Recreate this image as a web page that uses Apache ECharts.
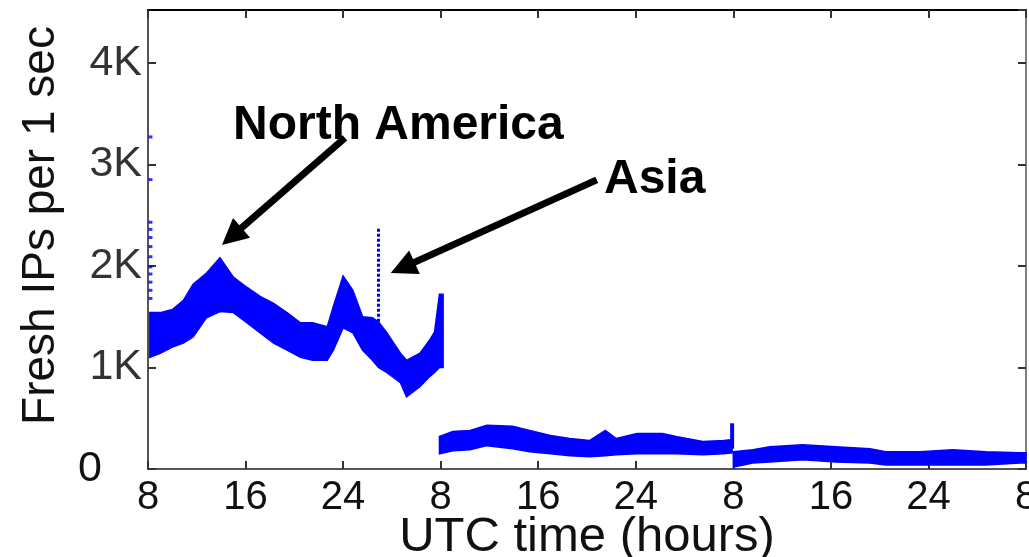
<!DOCTYPE html>
<html>
<head>
<meta charset="utf-8">
<script src="https://cdn.jsdelivr.net/npm/echarts@6/dist/echarts.min.js"></script>
<style>
html, body { margin: 0; padding: 0; background: #fff; }
#main { width: 1029px; height: 557px; }
</style>
</head>
<body>
<div id="main"></div>
<script>
// hours counted from 8:00 UTC on the first day
var xTickLabels = ['8', '16', '24', '8', '16', '24', '8', '16', '24', '8'];
var yTickLabels = ['0', '1K', '2K', '3K', '4K'];

// day 1 band (lower / upper edge of the point cloud)
var hours1 = [0.15, 1.0, 2.0, 2.9, 3.7, 4.8, 5.9, 7.0, 8.1, 9.2, 10.3, 11.4, 12.5, 13.5, 14.7, 15.2, 16.0, 16.8, 17.6, 18.4, 18.9, 19.6, 20.7, 21.2, 22.3, 23.1, 23.5, 23.9, 24.2];
var low1 = [1100, 1140, 1200, 1240, 1300, 1490, 1550, 1540, 1440, 1340, 1240, 1170, 1100, 1070, 1070, 1170, 1390, 1340, 1170, 1070, 1000, 950, 850, 710, 810, 910, 950, 1000, 1000];
var high1 = [1540, 1540, 1570, 1660, 1820, 1930, 2080, 1890, 1790, 1700, 1630, 1540, 1440, 1440, 1400, 1600, 1900, 1760, 1500, 1490, 1450, 1340, 1140, 1070, 1140, 1270, 1350, 1720, 1720];

// day 2 band
var hours2 = [23.9, 25.0, 26.4, 27.8, 29.9, 31.3, 33.0, 34.6, 36.2, 37.5, 38.4, 40.1, 42.2, 43.3, 45.5, 47.2, 47.9];
var low2 = [150, 180, 190, 230, 200, 170, 150, 130, 120, 130, 140, 150, 150, 150, 140, 150, 160];
var high2 = [320, 370, 380, 430, 420, 380, 330, 300, 280, 380, 300, 350, 350, 320, 270, 280, 290];

// day 3 band
var hours3 = [48.0, 49.6, 51.0, 53.7, 56.4, 59.2, 60.5, 63.3, 66.0, 68.7, 71.5, 72];
var low3 = [20, 60, 70, 90, 70, 60, 40, 40, 40, 40, 60, 60];
var high3 = [170, 190, 220, 240, 220, 200, 170, 170, 190, 170, 160, 160];

// isolated points / bursts
var startDots = [[0.2, 3270], [0.2, 2850], [0.2, 2430], [0.2, 2360], [0.2, 2280], [0.2, 2190], [0.2, 2090], [0.2, 1990], [0.2, 1920], [0.2, 1840], [0.2, 1760], [0.2, 1680]];
var asiaSpike = [[18.9, 1450], [18.9, 2370]];
var day2Spike = [[47.9, 200], [47.9, 450]];

// annotation arrows: [tail, head] in data coords
var arrowNA = [[16.15, 3260], [6.87, 2290]];
var arrowAsia = [[36.8, 2847], [20.88, 1983]];

var blue = '#0000ff';
var font = 'Liberation Sans, Arial, Helvetica, sans-serif';

var days = [
    { x: hours1, lo: low1, hi: high1 },
    { x: hours2, lo: low2, hi: high2 },
    { x: hours3, lo: low3, hi: high3 }
];

// each day is drawn as one filled band between its lower and upper edge
function renderBand(params, api) {
    var d = days[params.dataIndex];
    var pts = [];
    for (var i = 0; i < d.x.length; i++) pts.push(api.coord([d.x[i], d.hi[i]]));
    for (var j = d.x.length - 1; j >= 0; j--) pts.push(api.coord([d.x[j], d.lo[j]]));
    return {
        type: 'polygon',
        shape: { points: pts },
        style: { fill: blue, stroke: blue, lineWidth: 1.5 }
    };
}

var myChart = echarts.init(document.getElementById('main'));

myChart.setOption({
    animation: false,
    grid: { left: 148, right: 3, top: 10, bottom: 88, outerBoundsMode: 'none', containLabel: false },
    xAxis: [
        {
            type: 'value', min: 0, max: 72, interval: 8,
            name: 'UTC time (hours)', nameLocation: 'middle', nameGap: 44, nameMoveOverlap: false,
            nameTextStyle: { fontFamily: font, fontSize: 49, color: '#111' },
            axisLine: { lineStyle: { color: '#555', width: 2 } },
            axisTick: { inside: true, length: 8, lineStyle: { color: '#333', width: 2 } },
            axisLabel: {
                fontFamily: font, fontSize: 40, color: '#111', margin: 9,
                formatter: function (v) { return xTickLabels[v / 8] || ''; }
            },
            splitLine: { show: false }
        },
        {
            type: 'value', position: 'top', min: 0, max: 72, interval: 8,
            axisLine: { onZero: false, lineStyle: { color: '#000', width: 2 } },
            axisTick: { inside: true, length: 8, lineStyle: { color: '#333', width: 2 } },
            axisLabel: { show: false },
            splitLine: { show: false }
        }
    ],
    yAxis: [
        {
            type: 'value', min: 0, max: 4520, interval: 1000,
            name: 'Fresh IPs per 1 sec', nameLocation: 'middle', nameGap: 84,
            nameTextStyle: { fontFamily: font, fontSize: 46, color: '#111', padding: [0, 0, 0, 28] },
            axisLine: { onZero: false, lineStyle: { color: '#555', width: 2 } },
            axisTick: { inside: true, length: 8, lineStyle: { color: '#333', width: 2 } },
            axisLabel: {
                fontFamily: font, fontSize: 43, color: '#333', margin: 6, showMaxLabel: false,
                formatter: function (v) {
                    var s = yTickLabels[v / 1000];
                    if (s === undefined) return '';
                    return v === 0 ? '{zero|' + s + '}' : s;
                },
                rich: { zero: { fontFamily: font, fontSize: 43, color: '#111', padding: [0, 40, 0, 0] } }
            },
            splitLine: { show: false }
        },
        {
            type: 'value', position: 'right', min: 0, max: 4520, interval: 1000,
            axisLine: { onZero: false, lineStyle: { color: '#808080', width: 2 } },
            axisTick: { inside: true, length: 8, lineStyle: { color: '#333', width: 2 } },
            axisLabel: { show: false },
            splitLine: { show: false }
        }
    ],
    graphic: [
        {
            type: 'text', left: 233, top: 102,
            style: { text: 'North America', fontFamily: font, fontWeight: 'bold', fontSize: 48, fill: '#000' }
        },
        {
            type: 'text', left: 604, top: 156,
            style: { text: 'Asia', fontFamily: font, fontWeight: 'bold', fontSize: 48, fill: '#000' }
        }
    ],
    series: [
        {
            name: 'bands', type: 'custom', renderItem: renderBand,
            data: [[hours1[0], low1[0]], [hours2[0], low2[0]], [hours3[0], low3[0]]],
            z: 3
        },
        {
            name: 'start', type: 'scatter', symbol: 'rect', symbolSize: [4, 3],
            itemStyle: { color: blue }, data: startDots, z: 3
        },
        {
            name: 'asia', type: 'line', symbol: 'none', data: asiaSpike,
            lineStyle: { color: blue, width: 3, type: [3, 2] }, z: 3,
            markLine: {
                silent: true,
                symbol: ['none', 'triangle'],
                symbolSize: [26, 26],
                label: { show: false },
                lineStyle: { color: '#000', width: 7, type: 'solid' },
                itemStyle: { color: '#000' },
                data: [
                    [{ coord: arrowNA[0] }, { coord: arrowNA[1] }],
                    [{ coord: arrowAsia[0] }, { coord: arrowAsia[1] }]
                ]
            }
        },
        {
            name: 'day2end', type: 'line', symbol: 'none', data: day2Spike,
            lineStyle: { color: blue, width: 4 }, z: 3
        }
    ]
});
</script>
</body>
</html>
